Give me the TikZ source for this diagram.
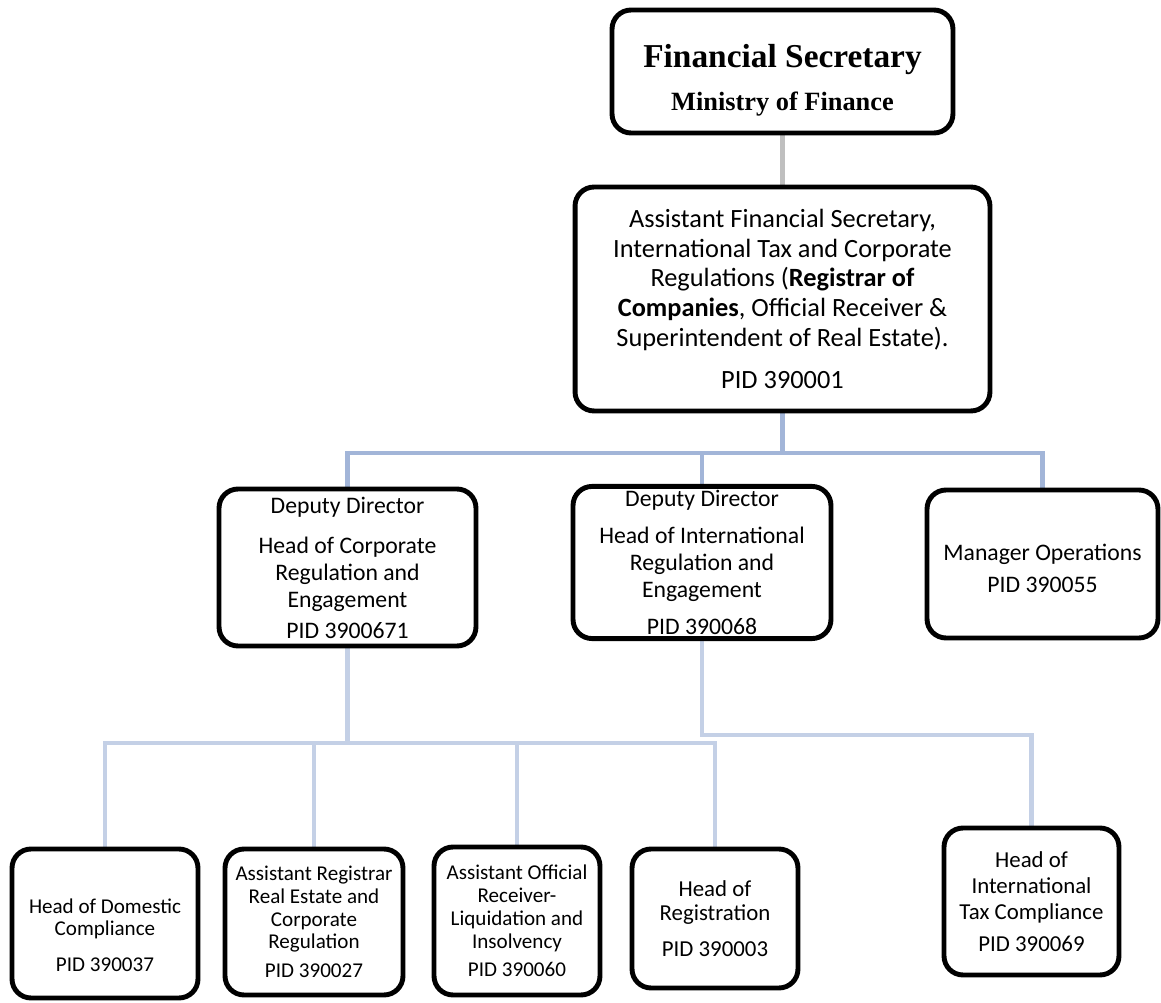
\documentclass[tikz,border=0pt]{standalone}
\usepackage{fontspec}
\setmainfont{Carlito}
\newfontfamily\headserif{Liberation Serif}
\usetikzlibrary{backgrounds}
\definecolor{upblue}{HTML}{A2B5D8}
\definecolor{lowblue}{HTML}{C4D0E6}
\definecolor{conngray}{HTML}{BFBFBF}
\tikzset{
  orgbox/.style={draw=black, line width=2.8pt, rounded corners=0.38cm, align=center, inner sep=2pt, fill=white},
  gline/.style={draw=conngray, line width=2.3pt},
  bline/.style={draw=upblue, line width=2.8pt},
  lline/.style={draw=lowblue, line width=2.8pt},
}
\begin{document}
\begin{tikzpicture}[x=0.02cm,y=-0.02cm]
\useasboundingbox (0,0) rectangle (1161,1003);

\node[orgbox, minimum width=6.82cm, minimum height=2.46cm, font=\headserif\bfseries] (fs) at (782.5,71.5)
  {\headserif\bfseries\fontsize{19}{22}\selectfont\rule{0pt}{23pt}Financial Secretary\\[8.5pt]
   \headserif\bfseries\fontsize{15}{18}\selectfont Ministry of Finance};

\node[orgbox, minimum width=8.3cm, minimum height=4.48cm, font=\fontsize{15}{17}\selectfont] (afs) at (782.5,299)
  {Assistant Financial Secretary,\\ International Tax and Corporate\\ Regulations (\textbf{Registrar of}\\
   \textbf{Companies}, Official Receiver \&\\ Superintendent of Real Estate).\\[7pt] PID 390001};

\node[orgbox, minimum width=5.14cm, minimum height=3.14cm, font=\fontsize{13.5}{15.3}\selectfont] (dd1) at (347.5,567.5)
  {Deputy Director\\[8pt] Head of Corporate\\ Regulation and\\ Engagement\\[2pt] PID 3900671};

\node[orgbox, minimum width=5.16cm, minimum height=2.9cm, font=\fontsize{13.5}{15.3}\selectfont] (dd2) at (702,562.5)
  {Deputy Director\\[6pt] Head of International\\ Regulation and\\ Engagement\\[6pt] PID 390068};

\node[orgbox, minimum width=4.62cm, minimum height=2.96cm, font=\fontsize{13.5}{15.3}\selectfont] (mo) at (1042.5,564)
  {\rule{0pt}{14pt}Manager Operations\\[3pt] PID 390055};

\node[orgbox, minimum width=3.72cm, minimum height=2.98cm, font=\fontsize{12}{12.5}\selectfont] (b1) at (105,923.5)
  {\rule{0pt}{22pt}Head of Domestic\\ Compliance\\[8pt] PID 390037};

\node[orgbox, minimum width=3.56cm, minimum height=2.92cm, font=\fontsize{12}{13}\selectfont] (b2) at (314,922)
  {Assistant Registrar\\ Real Estate and\\ Corporate\\ Regulation\\[3.5pt] PID 390027};

\node[orgbox, minimum width=3.32cm, minimum height=2.96cm, font=\fontsize{12}{13}\selectfont] (b3) at (517,921)
  {Assistant Official\\ Receiver-\\ Liquidation and\\ Insolvency\\[3.5pt] PID 390060};

\node[orgbox, minimum width=3.32cm, minimum height=2.78cm, font=\fontsize{13}{13.5}\selectfont] (b4) at (715,918.5)
  {Head of\\ Registration\\[7pt] PID 390003};

\node[orgbox, minimum width=3.5cm, minimum height=2.94cm, font=\fontsize{13}{14.7}\selectfont] (b5) at (1031.5,901.5)
  {Head of\\ International\\ Tax Compliance\\[3.5pt] PID 390069};

\coordinate (busA) at (0,453);
\coordinate (busB) at (0,743);
\coordinate (busC) at (0,735);

\begin{scope}[on background layer]
\draw[gline] (fs.south) -- (afs.north);
\draw[bline] (afs.south) -- (afs.south |- busA) -| (dd1.north);
\draw[bline] (afs.south |- busA) -| (dd2.north);
\draw[bline] (afs.south |- busA) -| (mo.north);
\draw[lline] (dd1.south) -- (dd1.south |- busB) -| (b1.north);
\draw[lline] (dd1.south |- busB) -| (b2.north);
\draw[lline] (dd1.south |- busB) -| (b3.north);
\draw[lline] (dd1.south |- busB) -| (b4.north);
\draw[lline] (dd2.south) -- (dd2.south |- busC) -| (b5.north);
\end{scope}
\end{tikzpicture}
\end{document}
